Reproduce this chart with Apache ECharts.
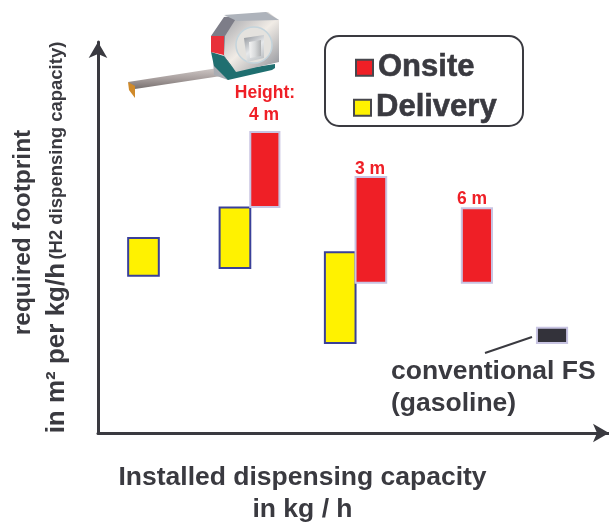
<!DOCTYPE html>
<html><head><meta charset="utf-8">
<style>html,body{margin:0;padding:0;background:#fff}#c{width:609px;height:525px}</style>
<script src="https://cdn.jsdelivr.net/npm/echarts@6/dist/echarts.min.js"></script>
</head><body><div id="c"></div>
<script>
const onsiteCapacity = [[29.8,35.5],[50.4,56.4],[71.2,77.1]];
const onsiteFootprint = [[57.8,77.0],[38.4,65.5],[38.4,57.5]];
const deliveryCapacity = [[5.9,11.9],[23.8,29.8],[44.4,50.4]];
const deliveryFootprint = [[40.2,49.9],[42.2,57.7],[23.0,46.2]];
const conventionalCapacity = [[85.9,91.8]];
const conventionalFootprint = [[23.0,26.9]];
const DARK='#3a3a40', RED='#ef1f26', YEL='#fff200', NAVY='#3a4099', LAV='#c8c4e2';
const FONT='"Liberation Sans",Arial,sans-serif';

function rows(xs,ys){return xs.map((x,i)=>[x[0],x[1],ys[i][0],ys[i][1]]);}
function rectSeries(name,data,fill,stroke,z){
  return {type:'custom',name,data,z,silent:true,clip:false,
    encode:{x:[0,1],y:[2,3]},
    itemStyle:{color:fill},
    renderItem(params,api){
      const a=api.coord([api.value(0),api.value(3)]), b=api.coord([api.value(1),api.value(2)]);
      return {type:'rect',shape:{x:a[0],y:a[1],width:b[0]-a[0],height:b[1]-a[1]},
        style:{fill,stroke,lineWidth:2}};
    }};
}
function poly(points,fill,z){return {type:'polygon',shape:{points},style:{fill},z:z||20,silent:true};}
function lin(x,y,x2,y2,c0,c1,c2){return {type:'linear',x,y,x2,y2,colorStops:[{offset:0,color:c0},{offset:.5,color:c1},{offset:1,color:c2}]};}
function red(text,x,y){return {type:'text',x,y,silent:true,z:30,style:{text,fill:RED,align:'center',verticalAlign:'middle',font:'bold 17.5px '+FONT}};}
const legendText={color:DARK,fontFamily:FONT,fontWeight:'bold',fontSize:31,textBorderColor:DARK,textBorderWidth:.6};
const legendIcon={borderColor:'#47474d',borderWidth:2};
const chart=echarts.init(document.getElementById('c'),null,{renderer:'canvas'});
chart.setOption({
  animation:false,backgroundColor:'#fff',
  grid:{left:98,top:42,width:511,height:391,outerBoundsMode:'none'},
  xAxis:{type:'value',min:0,max:100,
    name:'Installed dispensing capacity\nin kg / h',nameLocation:'middle',nameGap:29,
    nameTextStyle:{color:DARK,fontFamily:FONT,fontWeight:'bold',fontSize:26.5,lineHeight:32,verticalAlign:'top',padding:[0,102,0,0]},
    axisLine:{lineStyle:{color:DARK,width:3},symbol:['none','arrow'],symbolSize:[14,16]},
    axisTick:{show:false},axisLabel:{show:false},splitLine:{show:false}},
  yAxis:{type:'value',min:0,max:100,
    name:'{a|required footprint}\n{b|in m² per kg/h} {s|(H2 dispensing capacity)}',nameLocation:'middle',nameGap:25,nameRotate:90,
    nameTextStyle:{color:DARK,fontFamily:FONT,fontWeight:'bold',lineHeight:33,
      rich:{a:{fontSize:24.5,fontWeight:'bold',fontFamily:FONT,color:DARK,lineHeight:33,padding:[0,0,0,10]},
            b:{fontSize:26,fontWeight:'bold',fontFamily:FONT,color:DARK,lineHeight:33},
            s:{fontSize:18.5,fontWeight:'bold',fontFamily:FONT,color:DARK,lineHeight:33}}},
    axisLine:{lineStyle:{color:DARK,width:3},symbol:['none','arrow'],symbolSize:[14,16]},
    axisTick:{show:false},axisLabel:{show:false},splitLine:{show:false}},
  legend:[
    {left:355,top:52,padding:0,icon:'rect',itemWidth:17,itemHeight:16,itemStyle:legendIcon,data:['Onsite'],selectedMode:false,textStyle:legendText},
    {left:353,top:92,padding:0,icon:'rect',itemWidth:17,itemHeight:16,itemStyle:legendIcon,data:['Delivery'],selectedMode:false,textStyle:legendText}
  ],
  series:[
    rectSeries('Delivery',rows(deliveryCapacity,deliveryFootprint),YEL,NAVY,3),
    rectSeries('Onsite',rows(onsiteCapacity,onsiteFootprint),RED,LAV,4),
    rectSeries('conventional FS',rows(conventionalCapacity,conventionalFootprint),'#33323a',LAV,4)
  ],
  graphic:[
    {type:'rect',shape:{x:325,y:36,width:198,height:90,r:14},style:{fill:'none',stroke:DARK,lineWidth:2},z:1,silent:true},
    {type:'text',x:391,y:356,silent:true,style:{text:'conventional FS\n(gasoline)',fill:DARK,font:'bold 26.5px '+FONT,lineHeight:32}},
    {type:'line',shape:{x1:485,y1:353,x2:532,y2:337},style:{stroke:DARK,lineWidth:2},silent:true},
    red('Height:',265,93),red('4 m',264,115),red('3 m',370,169),red('6 m',472,199),
    // tape measure
    poly([[128,82],[218,68],[221,76],[135,89]],lin(0,0,0,1,'#cfc8c6','#a89f9e','#77706f')),
    poly([[128,82],[135,86],[135,98],[129,90]],'#d08a2a',21),
    poly([[213,58],[226,60],[236,72],[228,80],[214,75]],'#a9adb3',21),
    poly([[211,52],[224,56],[236,70],[275,64],[275,68],[272,70],[228,80],[214,66]],'#1f6f70',22),
    poly([[224,17],[268,12],[279,20],[279,62],[236,72],[224,55],[224,36]],lin(0,0,1,1,'#9a9ca3','#f1ece6','#8b8e96'),23),
    poly([[211,36],[224,17],[237,17],[225,36],[224,55],[232,68],[224,56]],'#7d7d88',24),
    poly([[224,15],[266,12],[279,20],[237,21]],'#aeb3bb',24),
    poly([[211,36],[224,36],[224,55],[211,52]],'#e8303a',25),
    {type:'circle',shape:{cx:254,cy:45,r:18},style:{fill:'#e4e2de',stroke:'#c4d4dc',lineWidth:1.5},z:26,silent:true},
    poly([[244,38],[264,35],[264,58],[247,62]],lin(0,0,1,1,'#8d9197','#e6e8ea','#b6babd'),27),
    poly([[249,42],[261,40],[261,56],[250,58]],lin(0,0,1,0,'#f4f4f4','#d8dadb','#aeb0b2'),28)
  ]
});
</script></body></html>
